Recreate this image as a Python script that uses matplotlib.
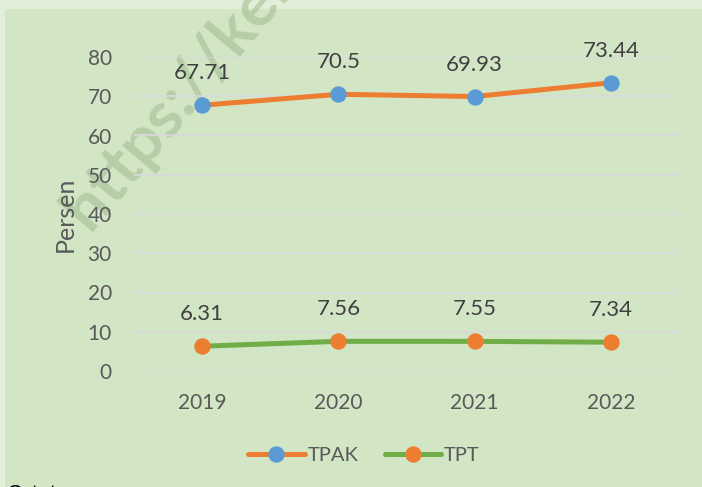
import matplotlib
matplotlib.use("Agg")
import matplotlib.pyplot as plt
from matplotlib.patches import Rectangle

years = ["2019", "2020", "2021", "2022"]
tpak = [67.71, 70.5, 69.93, 73.44]
tpt = [6.31, 7.56, 7.55, 7.34]
yticks = [0, 10, 20, 30, 40, 50, 60, 70, 80]

FONT = ["Lato", "DejaVu Sans"]
plt.rcParams["font.family"] = FONT

W, H = 702, 487
fig = plt.figure(figsize=(W / 100, H / 100), dpi=100)
fig.patch.set_facecolor("#e2eed8")
fig.patches.append(Rectangle((4.5 / W, 0), 1, 1 - 9 / H, transform=fig.transFigure,
                             facecolor="#d2e6c6", edgecolor="none", zorder=-5))

# watermark (behind the plot)
wm = fig.text(90 / W, 1 - 232 / H, "https://ken", rotation=50, rotation_mode="anchor",
              fontsize=47, fontweight="bold", color="#a3bf93", alpha=0.6,
              ha="left", va="baseline")
wm.set_zorder(1)

ax = fig.add_axes([134 / W, 1 - 371 / H, (679 - 134) / W, (371 - 57) / H])
ax.set_facecolor("none")
ax.set_zorder(2)

x = list(range(len(years)))
orange = "#ED7D31"
green = "#70AD47"
blue = "#5B9BD5"

ax.plot(x, tpak, color=orange, lw=3.6, marker="o", markersize=10.8,
        markerfacecolor=blue, markeredgecolor=blue, label="TPAK", zorder=3,
        solid_capstyle="round")
ax.plot(x, tpt, color=green, lw=3.6, marker="o", markersize=10.8,
        markerfacecolor=orange, markeredgecolor=orange, label="TPT", zorder=3,
        solid_capstyle="round")

for xi, v in zip(x, tpak):
    ax.annotate(f"{v:g}", (xi, v), xytext=(0, 23), textcoords="offset points",
                ha="center", va="center", fontsize=16, color="#404040")
for xi, v in zip(x, tpt):
    ax.annotate(f"{v:g}", (xi, v), xytext=(0, 23), textcoords="offset points",
                ha="center", va="center", fontsize=16, color="#404040")

ax.set_xlim(-0.5, 3.5)
ax.set_ylim(0, 80)
ax.set_yticks(yticks)
ax.set_yticklabels([str(t) for t in yticks])
ax.set_xticks(x)
ax.set_xticklabels(years)
ax.grid(axis="y", color="#d9d9d9", lw=1.2)
ax.set_axisbelow(True)
for s in ax.spines.values():
    s.set_visible(False)
ax.tick_params(axis="both", length=0, labelsize=15, colors="#595959")
ax.tick_params(axis="y", pad=16)
ax.tick_params(axis="x", pad=16)
ax.set_ylabel("Persen", fontsize=18, color="#595959", labelpad=8)

leg = fig.legend(loc="center", bbox_to_anchor=(364 / W, 1 - 455 / H), ncol=2,
                 frameon=False, fontsize=14.5, handlelength=2.8, handletextpad=0.15,
                 columnspacing=1.3)
for t in leg.get_texts():
    t.set_color("#595959")

fig.text(7 / W, 1 - 494 / H, "Catatan :", fontsize=15, color="#000000",
         ha="left", va="center")

fig.savefig("out.png", dpi=100, facecolor=fig.get_facecolor())
